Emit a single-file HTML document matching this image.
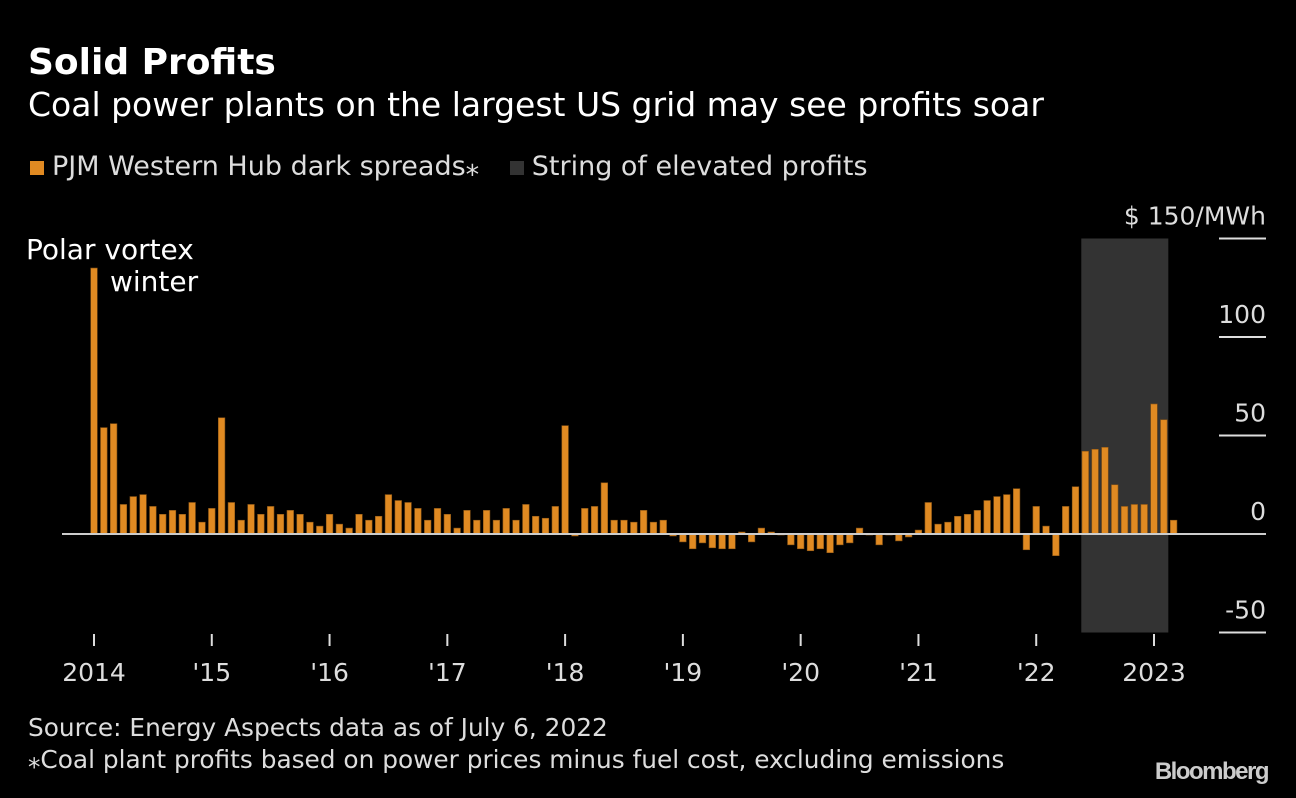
<!DOCTYPE html>
<html><head><meta charset="utf-8">
<style>
body{margin:0;background:#000;width:1296px;height:798px;overflow:hidden;font-family:"DejaVu Sans","Liberation Sans",sans-serif;color:#fff}
.t{position:absolute;white-space:nowrap}
</style></head>
<body>
<div class="t" style="left:28px;top:42px;font-size:36px;font-weight:bold">Solid Profits</div>
<div class="t" style="left:28px;top:85px;font-size:33px">Coal power plants on the largest US grid may see profits soar</div>
<div class="t" style="left:30px;top:151px;font-size:27px;color:#ddd">
<span style="display:inline-block;width:14px;height:14px;background:#e08a22;margin-right:8px"></span><span>PJM Western Hub dark spreads⁎</span>
<span style="display:inline-block;width:14px;height:14px;background:#333;margin:0 8px 0 22px"></span><span>String of elevated profits</span></div>
<svg id="chart" width="1296" height="798" style="position:absolute;left:0;top:0;font-family:'DejaVu Sans','Liberation Sans',sans-serif"></svg>
<div class="t" style="left:28px;top:713px;font-size:24.8px;color:#ddd">Source: Energy Aspects data as of July 6, 2022</div>
<div class="t" style="left:28px;top:745px;font-size:24.8px;color:#ddd">⁎Coal plant profits based on power prices minus fuel cost, excluding emissions</div>
<div class="t" style="right:28px;top:758px;font-size:24px;font-weight:bold;color:#ccc;letter-spacing:-1.5px;font-family:'Liberation Sans',sans-serif">Bloomberg</div>
<script>
const values=[135,54,56,15,19,20,14,10,12,10,16,6,
13,59,16,7,15,10,14,10,12,10,6,4,
10,5,3,10,7,9,20,17,16,13,7,13,
10,3,12,7,12,7,13,7,15,9,8,14,
55,-1,13,14,26,7,7,6,12,6,7,-1,
-4,-7.5,-4.5,-7,-7.5,-7.5,1,-4,3,1,-0.5,-5.5,
-7.5,-8.5,-7.5,-9.5,-5.5,-4.5,3,-0.5,-5.5,-0.5,-3.5,-1.5,
2,16,5,6,9,10,12,17,19,20,23,-8,
14,4,-11,14,24,42,43,44,25,14,15,15,
66,58,7];
const startYear=2014;
const yTicks=[150,100,50,0,-50];
const yTickLabels=["$ 150/MWh","100","50","0","-50"];
const xYears=[2014,2015,2016,2017,2018,2019,2020,2021,2022,2023];
const xYearLabels=["2014","'15","'16","'17","'18","'19","'20","'21","'22","2023"];
const shadeStart=101, shadeEnd=109;
const NS="http://www.w3.org/2000/svg";
const svg=document.getElementById('chart');
const y=v=>534-v*1.97;
const xm=i=>94+i*(1154-94)/108;
function el(t,a){const e=document.createElementNS(NS,t);for(const k in a)e.setAttribute(k,a[k]);svg.appendChild(e);return e;}
const sh=el('rect',{x:xm(shadeStart)-4,y:y(150),width:xm(shadeEnd)-xm(shadeStart)+8.5,height:y(-50)-y(150),fill:'#333'});


yTicks.forEach((t,k)=>{
 const l=el('line',{x1:1219,x2:1266,y1:y(t),y2:y(t),stroke:'#ddd','stroke-width':2});
 
 
 const tx=el('text',{x:1266,y:y(t)-14,'text-anchor':'end',fill:'#ddd','font-size':25});
 tx.textContent=yTickLabels[k];
 
 
});
values.forEach((v,i)=>{
 const top=Math.min(y(v),y(0)),h=Math.max(Math.abs(y(v)-y(0)),1);
 const r=el('rect',{x:xm(i)-3.3,y:top,width:6.6,height:h,fill:'#e08a22',stroke:'#8a5516','stroke-width':0.6});
 
 
});
const z=el('line',{x1:62,x2:1266,y1:y(0),y2:y(0),stroke:'#ccc','stroke-width':2});


xYears.forEach((yr,k)=>{
 const xx=xm((yr-startYear)*12);
 const tk=el('line',{x1:xx,x2:xx,y1:634,y2:646,stroke:'#ddd','stroke-width':2});
 
 
 const tx=el('text',{x:xx,y:681,'text-anchor':'middle',fill:'#ddd','font-size':25});
 tx.textContent=xYearLabels[k];
 
 
});
const a1=el('text',{x:26,y:259,fill:'#fff','font-size':28});a1.textContent='Polar vortex';


const a2=el('text',{x:110,y:291,fill:'#fff','font-size':28});a2.textContent='winter';


</script>
</body></html>
